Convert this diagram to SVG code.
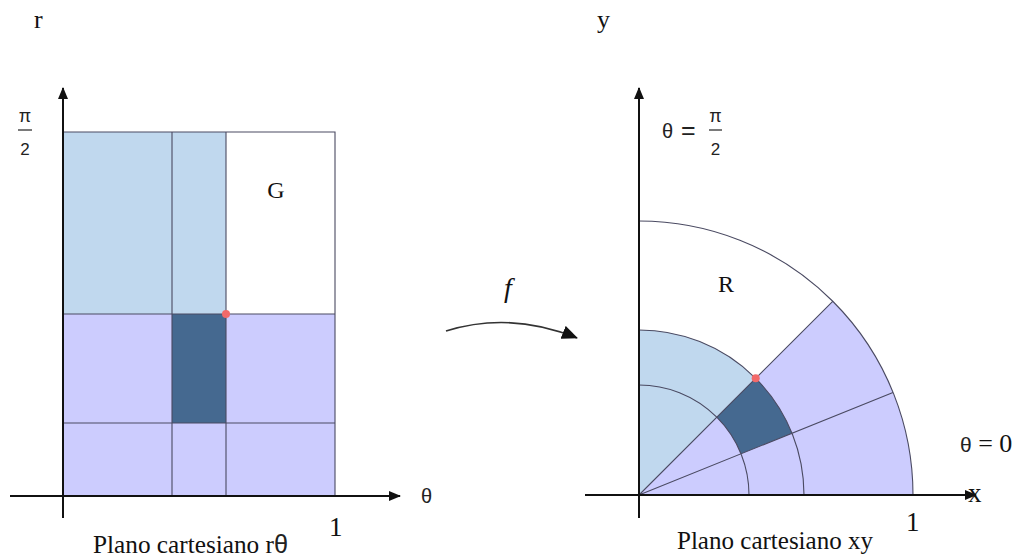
<svg xmlns="http://www.w3.org/2000/svg" width="1029" height="559" viewBox="0 0 1029 559">
<style>
.ax{stroke:#111;stroke-width:2;fill:none}
.gl{stroke:#4a4a62;stroke-width:1.1;fill:none}
.lb{fill:#c0d8ee}
.lv{fill:#ccccfe}
.dk{fill:#456990}
.dot{fill:#f26a6a}
.serif{font-family:"Liberation Serif","Times New Roman",serif;fill:#111}
.sans{font-family:"Liberation Sans",Arial,sans-serif;fill:#222}
</style>
<defs>
<marker id="ah" markerWidth="12" markerHeight="10" refX="11" refY="5" orient="auto" markerUnits="userSpaceOnUse">
<path d="M0,0 L12,5 L0,10 Z" fill="#111"/>
</marker>
<marker id="ahf" markerWidth="16" markerHeight="14" refX="15" refY="7" orient="auto" markerUnits="userSpaceOnUse">
<path d="M0,0 L16,7 L0,14 Z" fill="#111"/>
</marker>
</defs>
<rect width="1029" height="559" fill="#fff"/>

<g id="left-plane">
<rect class="lb" x="63" y="132" width="163" height="182"/>
<rect class="lv" x="63" y="314" width="272" height="182"/>
<rect class="dk" x="172" y="314" width="54" height="109"/>
<path class="gl" d="M63,132 H335 V496 M63,314 H335 M63,423 H335 M172,132 V496 M226,132 V496"/>
<circle class="dot" cx="226" cy="314" r="4"/>
</g>

<g id="right-plane">
<path class="lv" d="M639,495 L913,495 A274,274 0 0 0 832.7,301.3 Z"/>
<path class="lb" d="M639,495 L755.7,378.3 A165,165 0 0 0 639,330 Z"/>
<path class="dk" d="M741,453.8 L792,433.2 A165,165 0 0 0 755.7,378.3 L716.8,417.2 A110,110 0 0 1 741,453.8 Z"/>
<path class="gl" d="M749,495 A110,110 0 0 0 639,385 M804,495 A165,165 0 0 0 639,330 M913,495 A274,274 0 0 0 639,221 M639,495 L893,392.4 M639,495 L832.7,301.3"/>
<circle class="dot" cx="755.7" cy="378.3" r="4"/>
</g>

<g id="connectors">
<line class="ax" x1="63" y1="518" x2="63" y2="88" marker-end="url(#ah)"/>
<line class="ax" x1="10" y1="496" x2="400" y2="496" marker-end="url(#ah)"/>
<line class="ax" x1="639" y1="518" x2="639" y2="88" marker-end="url(#ah)"/>
<line class="ax" x1="585" y1="495" x2="976" y2="495" marker-end="url(#ah)"/>
<path d="M446,331 Q510,311 577,338" stroke="#333" stroke-width="1.6" fill="none" marker-end="url(#ahf)"/>
</g>

<g id="labels">
<text class="serif" x="34" y="28" font-size="26">r</text>
<text class="serif" x="597" y="28" font-size="26">y</text>
<text class="sans" x="25" y="122" font-size="18" text-anchor="middle">π</text>
<line x1="18" y1="130" x2="32" y2="130" stroke="#222" stroke-width="1.2"/>
<text class="sans" x="25" y="155" font-size="17" text-anchor="middle">2</text>
<text class="serif" x="276" y="198" font-size="24" text-anchor="middle">G</text>
<text class="sans" x="421" y="503" font-size="20">θ</text>
<text class="serif" x="329" y="536" font-size="27">1</text>
<text class="serif" x="93" y="553" font-size="25" textLength="195" lengthAdjust="spacingAndGlyphs">Plano cartesiano r<tspan class="sans">θ</tspan></text>
<text class="serif" x="504" y="297" font-size="28" font-style="italic">f</text>
<text class="sans" x="662" y="138" font-size="20">θ</text>
<text class="sans" x="681" y="139" font-size="25">=</text>
<text class="sans" x="715.5" y="122" font-size="18" text-anchor="middle">π</text>
<line x1="709" y1="130" x2="722" y2="130" stroke="#222" stroke-width="1.2"/>
<text class="sans" x="715.5" y="155" font-size="17" text-anchor="middle">2</text>
<text class="serif" x="726" y="292" font-size="24" text-anchor="middle">R</text>
<text class="serif" x="960" y="452" font-size="26"><tspan class="sans" font-size="21">θ</tspan> = 0</text>
<text class="serif" x="968" y="502" font-size="27">x</text>
<text class="serif" x="906" y="531" font-size="27">1</text>
<text class="serif" x="677" y="549" font-size="25" textLength="196" lengthAdjust="spacingAndGlyphs">Plano cartesiano xy</text>
</g>
</svg>
